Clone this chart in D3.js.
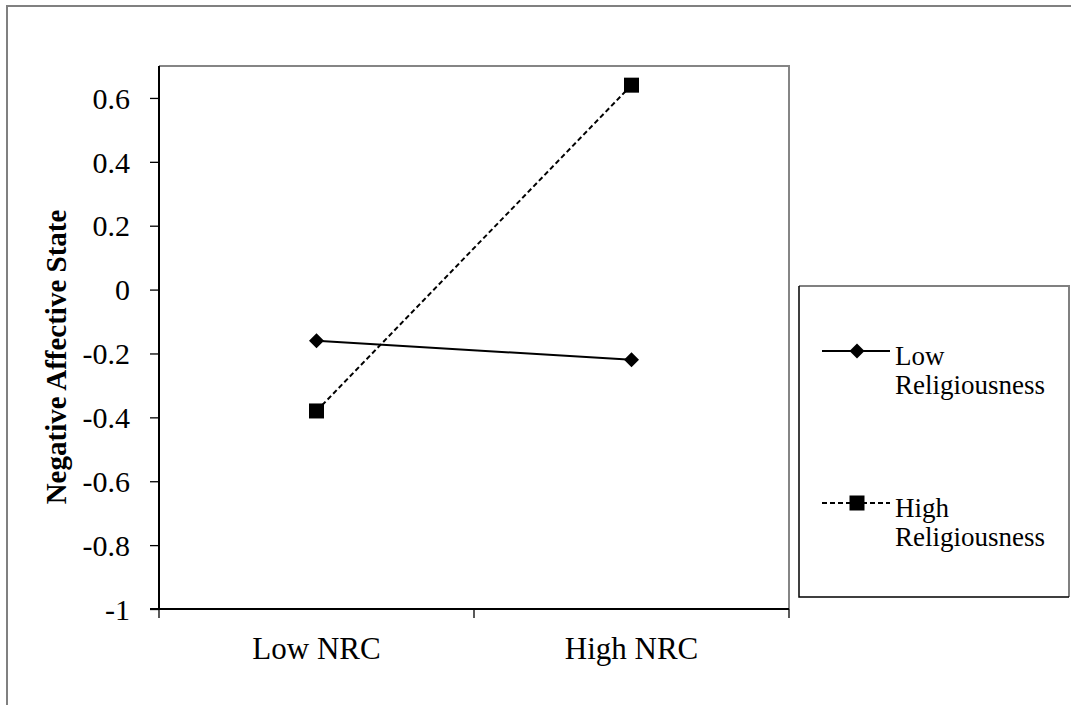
<!DOCTYPE html>
<html>
<head>
<meta charset="utf-8">
<script src="https://cdn.jsdelivr.net/npm/d3@7"></script>
<style>
  html, body { margin: 0; padding: 0; background: #fff; }
  svg { display: block; }
  text { font-family: "Liberation Serif", "Times New Roman", serif; fill: #000; }
</style>
</head>
<body>
<svg id="chart" width="1071" height="705"></svg>
<script>
const categories = ["Low NRC", "High NRC"];
const seriesNames = ["Low Religiousness", "High Religiousness"];
const lowReligiousness = [-0.16, -0.22];
const highReligiousness = [-0.38, 0.64];
const yTicks = [-1, -0.8, -0.6, -0.4, -0.2, 0, 0.2, 0.4, 0.6];
const yTitle = "Negative Affective State";

const svg = d3.select("#chart");
const plot = { left: 159, right: 789, top: 66, bottom: 609 };

// outer border (left & top visible)
svg.append("path")
  .attr("d", `M7,705 L7,6 L1071,6`)
  .attr("fill", "none").attr("stroke", "#808080").attr("stroke-width", 2);

const x = d3.scaleBand().domain(categories).range([plot.left, plot.right]);
const y = d3.scaleLinear().domain([-1, 0.7]).range([plot.bottom, plot.top]);

// plot frame (top and right gray)
svg.append("path")
  .attr("d", `M${plot.left},${plot.top} L${plot.right},${plot.top} L${plot.right},${plot.bottom}`)
  .attr("fill", "none").attr("stroke", "#858585").attr("stroke-width", 2);

// y axis
const yAxis = d3.axisLeft(y).tickValues(yTicks).tickSize(9).tickPadding(20)
  .tickFormat(d => (Math.abs(d) < 1e-9 ? "0" : String(d).replace("−", "-")));
const gy = svg.append("g").attr("transform", `translate(${plot.left},0)`).call(yAxis);
gy.select(".domain").attr("stroke", "#000").attr("stroke-width", 2)
  .attr("d", `M0,${plot.top}V${plot.bottom}`);
gy.selectAll(".tick line").attr("stroke", "#000").attr("stroke-width", 1.3);
gy.selectAll(".tick text").attr("font-size", 30).attr("font-family", "Liberation Serif").attr("fill", "#000").attr("dy", "0.34em");

// x axis
const xAxis = d3.axisBottom(x).tickSize(0).tickPadding(0);
const gx = svg.append("g").attr("transform", `translate(0,${plot.bottom})`).call(xAxis);
gx.select(".domain").attr("stroke", "#000").attr("stroke-width", 2)
  .attr("d", `M${plot.left - 9},0H${plot.right}`);
gx.selectAll(".tick text").attr("font-size", 31).attr("font-family", "Liberation Serif").attr("fill", "#000")
  .attr("y", 50).attr("dy", 0);
// category boundary ticks
const bounds = [plot.left].concat(categories.map(c => x(c) + x.bandwidth()));
gx.selectAll(".bound").data(bounds).enter().append("line")
  .attr("x1", d => d).attr("x2", d => d).attr("y1", 0).attr("y2", 9)
  .attr("stroke", "#000").attr("stroke-width", 1.3);

// y title
svg.append("text")
  .attr("transform", `translate(66,357) rotate(-90)`)
  .attr("text-anchor", "middle").attr("font-size", 29).attr("font-weight", "bold")
  .text(yTitle);

const cx = c => x(c) + x.bandwidth() / 2;
const line = d3.line().x((d, i) => cx(categories[i])).y(d => y(d));

const series = [
  { name: seriesNames[0], values: lowReligiousness, dash: null, marker: "diamond" },
  { name: seriesNames[1], values: highReligiousness, dash: "5,3", marker: "square" }
];

function drawMarker(g, type, px, py) {
  if (type === "diamond") {
    g.append("path").attr("d", `M${px},${py - 7.5}L${px + 7.5},${py}L${px},${py + 7.5}L${px - 7.5},${py}Z`).attr("fill", "#000");
  } else {
    g.append("rect").attr("x", px - 7.5).attr("y", py - 7.5).attr("width", 15).attr("height", 15).attr("fill", "#000");
  }
}

series.forEach(s => {
  svg.append("path").datum(s.values).attr("d", line)
    .attr("fill", "none").attr("stroke", "#000").attr("stroke-width", 2)
    .attr("stroke-dasharray", s.dash);
  const g = svg.append("g");
  s.values.forEach((v, i) => drawMarker(g, s.marker, cx(categories[i]), y(v)));
});

// legend
const leg = { left: 799, top: 286, right: 1069, bottom: 597 };
svg.append("path").attr("d", `M${leg.left},${leg.top}L${leg.right},${leg.top}L${leg.right},${leg.bottom}`)
  .attr("fill", "none").attr("stroke", "#808080").attr("stroke-width", 2);
svg.append("path").attr("d", `M${leg.left},${leg.top}L${leg.left},${leg.bottom}L${leg.right},${leg.bottom}`)
  .attr("fill", "none").attr("stroke", "#000").attr("stroke-width", 1.5);

const legY = [351, 503];
series.forEach((s, i) => {
  const ly = legY[i];
  svg.append("line").attr("x1", 822).attr("x2", 890).attr("y1", ly).attr("y2", ly)
    .attr("stroke", "#000").attr("stroke-width", 2).attr("stroke-dasharray", s.dash);
  drawMarker(svg.append("g"), s.marker, 857, ly);
  const words = s.name.split(" ");
  const t = svg.append("text").attr("x", 895).attr("y", ly + 14).attr("font-size", 27);
  t.append("tspan").attr("x", 895).text(words[0]);
  t.append("tspan").attr("x", 895).attr("dy", 29).text(words[1]);
});
</script>
</body>
</html>
